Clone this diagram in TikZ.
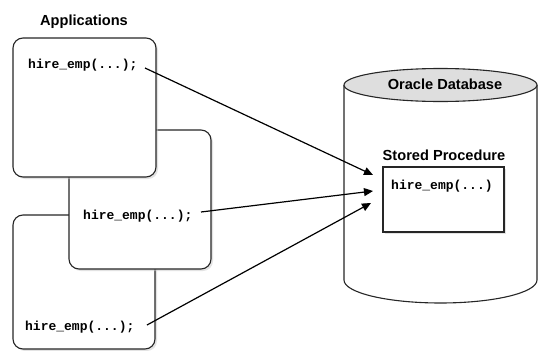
\documentclass[tikz,border=0pt]{standalone}
\usepackage{fontspec}
\setmainfont{Liberation Sans}
\newfontfamily\monof{Liberation Mono}
\usetikzlibrary{shadows,arrows.meta}
\tikzset{
  appbox/.style={draw=black!85, line width=1.1pt, fill=white, rounded corners=10pt,
    drop shadow={shadow xshift=2pt, shadow yshift=-2pt, fill=black!22}},
  code/.style={font=\monof\bfseries\fontsize{13}{15}\selectfont, inner sep=0pt, anchor=west},
  title/.style={font=\bfseries\fontsize{14.6}{16}\selectfont, inner sep=0pt},
  conn/.style={line width=1.2pt, -{Triangle[length=9pt,width=8pt]}},
}
\begin{document}
\begin{tikzpicture}[x=1pt,y=-1pt]
\useasboundingbox (0,0) rectangle (539,351);
% application boxes (back to front)
\path[appbox] (13,215) rectangle (155,349);
\path[appbox] (69,130) rectangle (211,269);
\path[appbox] (13,38) rectangle (156,177);
\node[title] (apps) at (84,22) {Applications};
\node[code] (t1) at (28,65) {hire\_emp(...);};
\node[code] (t2) at (83,216) {hire\_emp(...);};
\node[code] (t3) at (25,327) {hire\_emp(...);};
% database cylinder
\path[fill=white] (344,85) -- (344,280) arc[start angle=180, end angle=0, x radius=96.5, y radius=23] -- (537,85) -- cycle;
\draw[line width=1.1pt, black!85] (344,85) -- (344,280) arc[start angle=180, end angle=0, x radius=96.5, y radius=23] -- (537,85);
\draw[line width=1.1pt, black!85, fill=black!13] (440.5,85) ellipse[x radius=96.5, y radius=16.5];
\node[title] (db) at (445,84) {Oracle Database};
\node[title] (sp) at (444,155) {Stored Procedure};
\path[draw=black!85, line width=1.1pt, fill=white,
  drop shadow={shadow xshift=2pt, shadow yshift=-2pt, fill=black!22}] (383,167) rectangle (504,232);
\node[code] (proc) at (391,186) {hire\_emp(...)};
% connectors
\coordinate (s1) at (145,68);
\coordinate (s2) at (201,212);
\coordinate (s3) at (147,325);
\coordinate (e1) at (373,175);
\coordinate (e2) at (373,191);
\coordinate (e3) at (371,203);
\draw[conn] (s1) -- (e1);
\draw[conn] (s2) -- (e2);
\draw[conn] (s3) -- (e3);
\end{tikzpicture}
\end{document}
